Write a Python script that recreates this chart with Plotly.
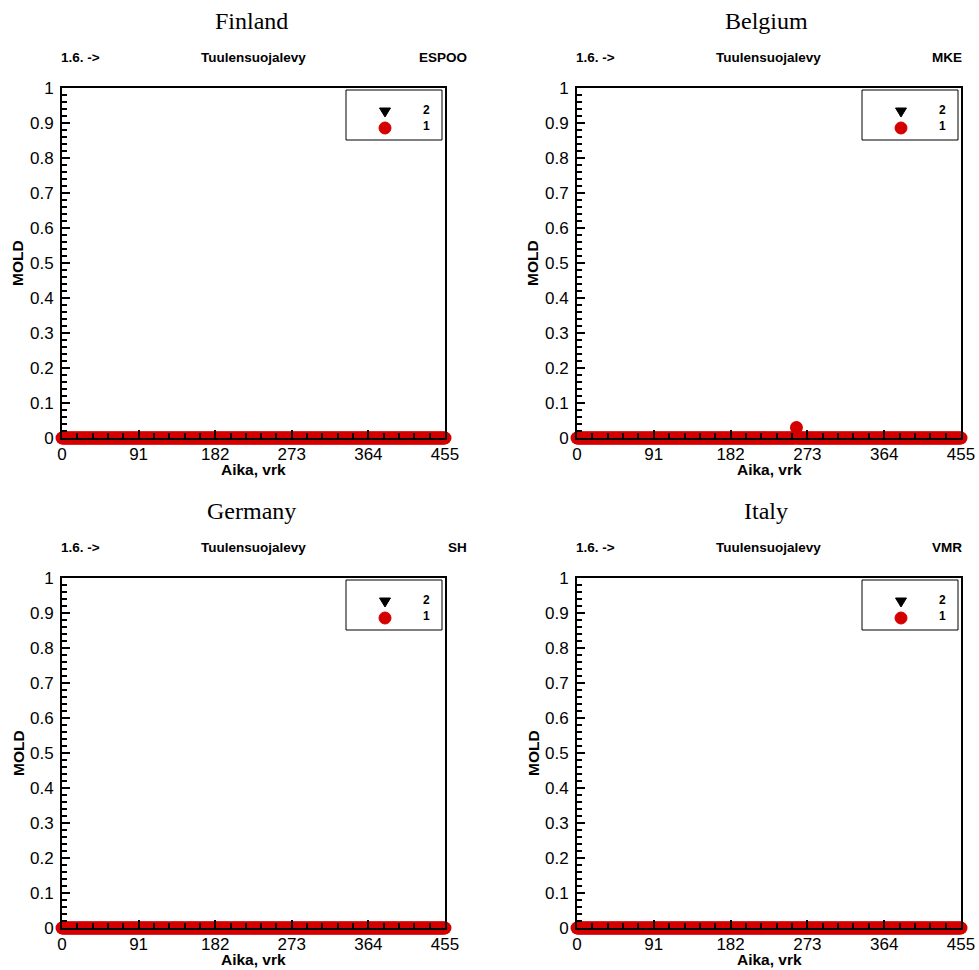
import plotly.graph_objects as go

# ---------------- data ----------------
countries = ["Finland", "Belgium", "Germany", "Italy"]
locations = ["ESPOO", "MKE", "SH", "VMR"]
material = "Tuulensuojalevy"
start_label = "1.6. ->"
x_title = "Aika, vrk"
y_title = "MOLD"
series_names = ["2", "1"]

days = list(range(0, 456))
mold1_finland = [0.0] * len(days)
mold1_belgium = [0.0] * len(days)
mold1_belgium[260] = 0.03
mold1_germany = [0.0] * len(days)
mold1_italy = [0.0] * len(days)
mold2_all = [0.0] * len(days)

mold1 = [mold1_finland, mold1_belgium, mold1_germany, mold1_italy]
x_ticks = [0, 91, 182, 273, 364, 455]
y_ticks = [0, 0.1, 0.2, 0.3, 0.4, 0.5, 0.6, 0.7, 0.8, 0.9, 1]
y_tick_text = ["0", "0.1", "0.2", "0.3", "0.4", "0.5", "0.6", "0.7", "0.8", "0.9", "1"]

# ---------------- layout ----------------
OFF = 0  # body margin removed via post_script
W, H = 979, 970
left_px = [62, 577]
right_px = [445, 961]
top_px = [88, 578]
bot_px = [438, 928]

fig = go.Figure()
annotations = []
shapes = []
red = "#d40000"
sans = "Liberation Sans, Arial, sans-serif"


def px(x):
    return (x - OFF) / W


def py(y):
    return 1 - (y - OFF) / H


for i in range(4):
    r, c = divmod(i, 2)
    n = i + 1
    xa = "x" if n == 1 else f"x{n}"
    ya = "y" if n == 1 else f"y{n}"
    fig.add_trace(go.Scatter(x=days, y=mold2_all, mode="markers", xaxis=xa, yaxis=ya,
                             marker=dict(symbol="triangle-down", color="black", size=10),
                             cliponaxis=False, showlegend=False, name=series_names[0]))
    fig.add_trace(go.Scatter(x=days, y=mold1[i], mode="markers", xaxis=xa, yaxis=ya,
                             marker=dict(symbol="circle", color=red, size=13),
                             cliponaxis=False, showlegend=False, name=series_names[1]))
    axis_common = dict(showgrid=False, zeroline=False, showline=True, linecolor="black",
                       linewidth=2, mirror=True, ticks="inside", tickcolor="black",
                       tickwidth=2, ticklen=8, automargin=False,
                       tickfont=dict(family=sans, size=17, color="black"))
    xkey = "xaxis" if n == 1 else f"xaxis{n}"
    ykey = "yaxis" if n == 1 else f"yaxis{n}"
    L, R, T, B = left_px[c], right_px[c], top_px[r], bot_px[r]
    fig.update_layout(**{
        xkey: dict(domain=[px(L), px(R)], range=[0, 455], anchor=ya,
                   tickvals=x_ticks, ticktext=[str(t) for t in x_ticks],
                   minor=dict(dtick=18.2, tick0=0, ticks="inside", ticklen=5, tickwidth=1.5, tickcolor="black"),
                   **axis_common),
        ykey: dict(domain=[py(B), py(T)], range=[0, 1], anchor=xa,
                   tickvals=y_ticks, ticktext=y_tick_text, ticklabelstandoff=3,
                   minor=dict(dtick=0.02, tick0=0, ticks="inside", ticklen=5, tickwidth=1.5, tickcolor="black"),
                   **axis_common),
    })
    # axis titles
    annotations.append(dict(text=f"<b>{x_title}</b>", x=px((L + R) / 2), y=py(B + 31),
                            xref="paper", yref="paper", showarrow=False, xanchor="center", yanchor="middle",
                            font=dict(family=sans, size=15.5, color="black")))
    annotations.append(dict(text=f"<b>{y_title}</b>", x=px(L - 44), y=py((T + B) / 2),
                            xref="paper", yref="paper", showarrow=False, xanchor="center", yanchor="middle",
                            textangle=-90, font=dict(family=sans, size=15.5, color="black")))
    # country title
    annotations.append(dict(text=countries[i], x=px(L + 189), y=py(T - 67),
                            xref="paper", yref="paper", showarrow=False, xanchor="center", yanchor="middle",
                            font=dict(family="Liberation Serif, Times New Roman, serif", size=24, color="black")))
    sub_y = py(T - 31)
    annotations.append(dict(text=f"<b>{start_label}</b>", x=px(L - 3), y=sub_y, xref="paper", yref="paper",
                            showarrow=False, xanchor="left", yanchor="middle",
                            font=dict(family=sans, size=13.5, color="black")))
    annotations.append(dict(text=f"<b>{material}</b>", x=px(L + 191), y=sub_y, xref="paper", yref="paper",
                            showarrow=False, xanchor="center", yanchor="middle",
                            font=dict(family=sans, size=13.5, color="black")))
    right_text_x = 469 if c == 0 else 964
    annotations.append(dict(text=f"<b>{locations[i]}</b>", x=px(right_text_x), y=sub_y, xref="paper", yref="paper",
                            showarrow=False, xanchor="right", yanchor="middle",
                            font=dict(family=sans, size=13.5, color="black")))
    # legend box
    lx0, lx1 = R - 99, R - 3
    ly0, ly1 = T + 2, T + 52
    shapes.append(dict(type="rect", xref="paper", yref="paper",
                       x0=px(lx0), x1=px(lx1), y0=py(ly1), y1=py(ly0),
                       line=dict(color="black", width=1), fillcolor="white"))
    # legend keys (pixel-sized shapes)
    shapes.append(dict(type="path", xref="paper", yref="paper",
                       xsizemode="pixel", ysizemode="pixel",
                       xanchor=px(lx0 + 39), yanchor=py(ly0 + 22),
                       path="M -5.5 4 L 5.5 4 L 0 -5 Z",
                       fillcolor="black", line=dict(color="black", width=1)))
    shapes.append(dict(type="circle", xref="paper", yref="paper",
                       xsizemode="pixel", ysizemode="pixel",
                       xanchor=px(lx0 + 39), yanchor=py(ly0 + 38),
                       x0=-6, x1=6, y0=-6, y1=6,
                       fillcolor=red, line=dict(color=red, width=1)))
    annotations.append(dict(text=f"<b>{series_names[0]}</b>", x=px(lx0 + 86), y=py(ly0 + 20), xref="paper", yref="paper",
                            showarrow=False, xanchor="right", yanchor="middle",
                            font=dict(family=sans, size=12, color="black")))
    annotations.append(dict(text=f"<b>{series_names[1]}</b>", x=px(lx0 + 86), y=py(ly0 + 36), xref="paper", yref="paper",
                            showarrow=False, xanchor="right", yanchor="middle",
                            font=dict(family=sans, size=12, color="black")))

fig.update_layout(width=W, height=H, margin=dict(l=0, r=0, t=0, b=0, autoexpand=False),
                  paper_bgcolor="white", plot_bgcolor="white",
                  annotations=annotations, shapes=shapes, showlegend=False)

fig.write_html("out.html", config={"displayModeBar": False},
               post_script="document.body.style.margin='0';document.body.style.overflow='hidden';")
